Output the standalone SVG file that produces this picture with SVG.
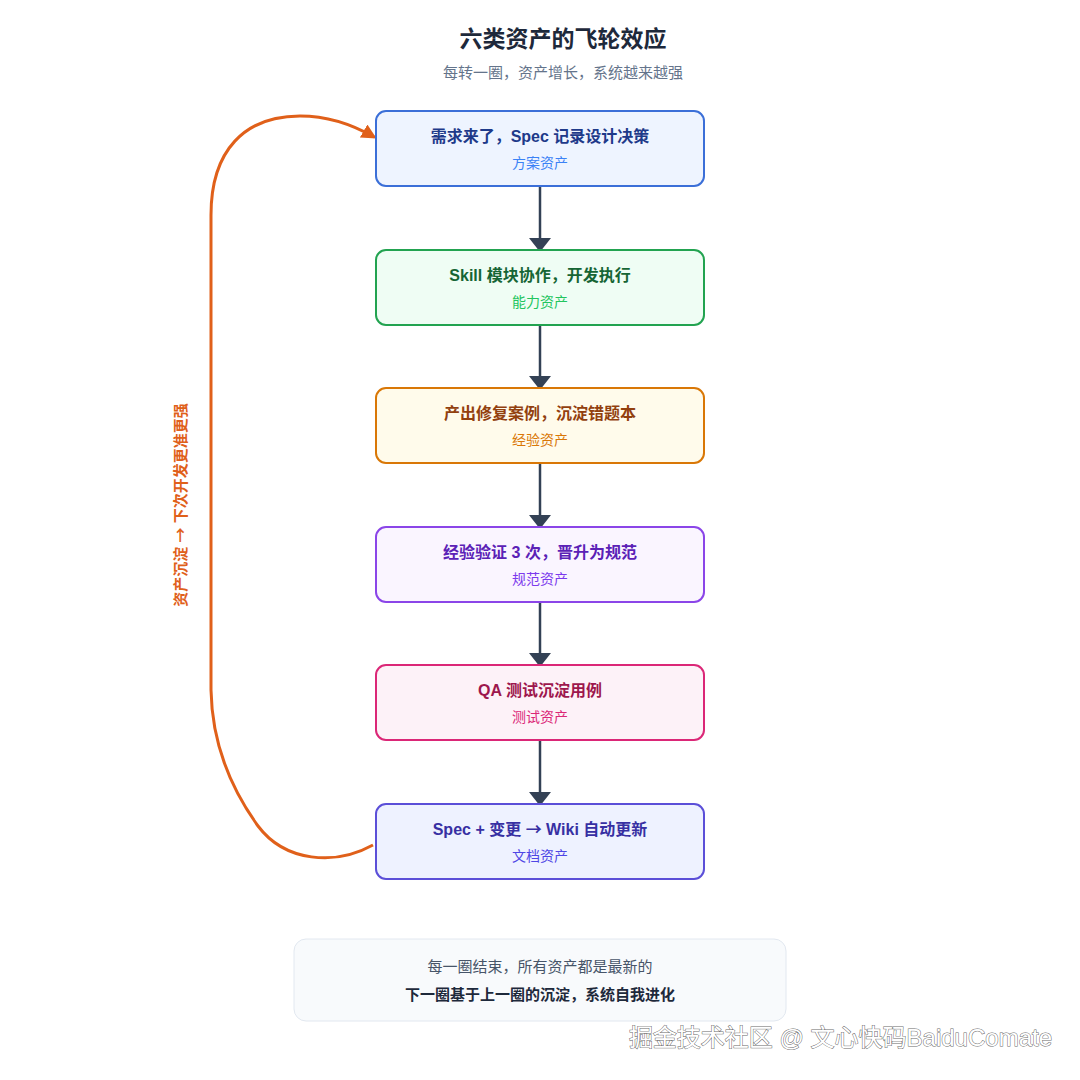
<svg xmlns="http://www.w3.org/2000/svg" width="1080" height="1080" viewBox="0 0 1080 1080">
  <defs>
    <style>
      text { font-family: "Liberation Sans", "Noto Sans CJK SC", sans-serif; text-anchor: middle; }
      .cjk { font-family: "Noto Sans CJK SC", sans-serif; }
      .title { font-size: 23px; font-weight: bold; fill: #1e293b; }
      .sub { font-size: 15px; fill: #64748b; }
      .box { stroke-width: 2; }
      .t { font-size: 16px; font-weight: bold; }
      .s { font-size: 14px; }
      .flow { stroke: #334155; stroke-width: 2.5; fill: none; }
      .loop { stroke: #e0601a; stroke-width: 3; fill: none; }
    </style>
    <marker id="oh" viewBox="0 0 15 15" refX="12" refY="7.5" markerWidth="15" markerHeight="15" markerUnits="userSpaceOnUse" orient="auto">
      <path d="M0,0 L15,7.5 L0,15 Z" fill="#e0601a"/>
    </marker>
  </defs>
  <rect width="1080" height="1080" fill="#ffffff"/>

  <text class="title" x="563" y="47">六类资产的飞轮效应</text>
  <text class="sub" x="563" y="78">每转一圈，资产增长，系统越来越强</text>

  <g id="connectors">
    <line class="flow" x1="540" y1="187" x2="540" y2="238"/>
    <path d="M529,238 L551,238 L540,252 Z" fill="#334155"/>
    <line class="flow" x1="540" y1="326" x2="540" y2="376"/>
    <path d="M529,376 L551,376 L540,390 Z" fill="#334155"/>
    <line class="flow" x1="540" y1="464" x2="540" y2="515"/>
    <path d="M529,515 L551,515 L540,529 Z" fill="#334155"/>
    <line class="flow" x1="540" y1="603" x2="540" y2="653"/>
    <path d="M529,653 L551,653 L540,667 Z" fill="#334155"/>
    <line class="flow" x1="540" y1="741" x2="540" y2="792"/>
    <path d="M529,792 L551,792 L540,806 Z" fill="#334155"/>
    <path class="loop" d="M373,845 C335,866 285,862 258,826 C232,790 212,745 211,690 L211,215 C211,150 245,116 300,116 C330,116 355,126 374,137" marker-end="url(#oh)"/>
    <text x="0" y="0" transform="translate(186,505) rotate(-90)" font-size="15" font-weight="bold" fill="#e0601a">资产沉淀 <tspan class="cjk">→</tspan> 下次开发更准更强</text>
  </g>

  <g id="n1">
    <rect class="box" x="376" y="111" width="328" height="75" rx="10" fill="#eef4ff" stroke="#3b6fd8"/>
    <text class="t" x="540" y="142" fill="#1e3a8a">需求来了，Spec 记录设计决策</text>
    <text class="s" x="540" y="168" fill="#3b82f6">方案资产</text>
  </g>
  <g id="n2">
    <rect class="box" x="376" y="250" width="328" height="75" rx="10" fill="#effdf4" stroke="#22a350"/>
    <text class="t" x="540" y="281" fill="#166534">Skill 模块协作，开发执行</text>
    <text class="s" x="540" y="307" fill="#22c55e">能力资产</text>
  </g>
  <g id="n3">
    <rect class="box" x="376" y="388" width="328" height="75" rx="10" fill="#fffbeb" stroke="#d97706"/>
    <text class="t" x="540" y="419" fill="#92400e">产出修复案例，沉淀错题本</text>
    <text class="s" x="540" y="445" fill="#d97706">经验资产</text>
  </g>
  <g id="n4">
    <rect class="box" x="376" y="527" width="328" height="75" rx="10" fill="#faf5ff" stroke="#8b45e8"/>
    <text class="t" x="540" y="558" fill="#5b21b6">经验验证 3 次，晋升为规范</text>
    <text class="s" x="540" y="584" fill="#7c3aed">规范资产</text>
  </g>
  <g id="n5">
    <rect class="box" x="376" y="665" width="328" height="75" rx="10" fill="#fdf2f8" stroke="#db2777"/>
    <text class="t" x="540" y="696" fill="#9d174d">QA 测试沉淀用例</text>
    <text class="s" x="540" y="722" fill="#db2777">测试资产</text>
  </g>
  <g id="n6">
    <rect class="box" x="376" y="804" width="328" height="75" rx="10" fill="#eef2ff" stroke="#5b4fd8"/>
    <text class="t" x="540" y="835" fill="#3730a3">Spec + 变更 <tspan class="cjk">→</tspan> Wiki 自动更新</text>
    <text class="s" x="540" y="861" fill="#4f46e5">文档资产</text>
  </g>

  <g id="note">
    <rect x="294" y="939" width="492" height="82" rx="12" fill="#f8fafc" stroke="#e2e8f0" stroke-width="1"/>
    <text x="540" y="972" font-size="15" fill="#475569">每一圈结束，所有资产都是最新的</text>
    <text x="540" y="1000" font-size="15" font-weight="bold" fill="#1e293b">下一圈基于上一圈的沉淀，系统自我进化</text>
  </g>

  <text x="1052" y="1046" font-size="24" fill="#ffffff" stroke="#6b6b6b" stroke-width="1" paint-order="stroke" style="text-anchor:end">掘金技术社区 @ 文心快码BaiduComate</text>
</svg>
